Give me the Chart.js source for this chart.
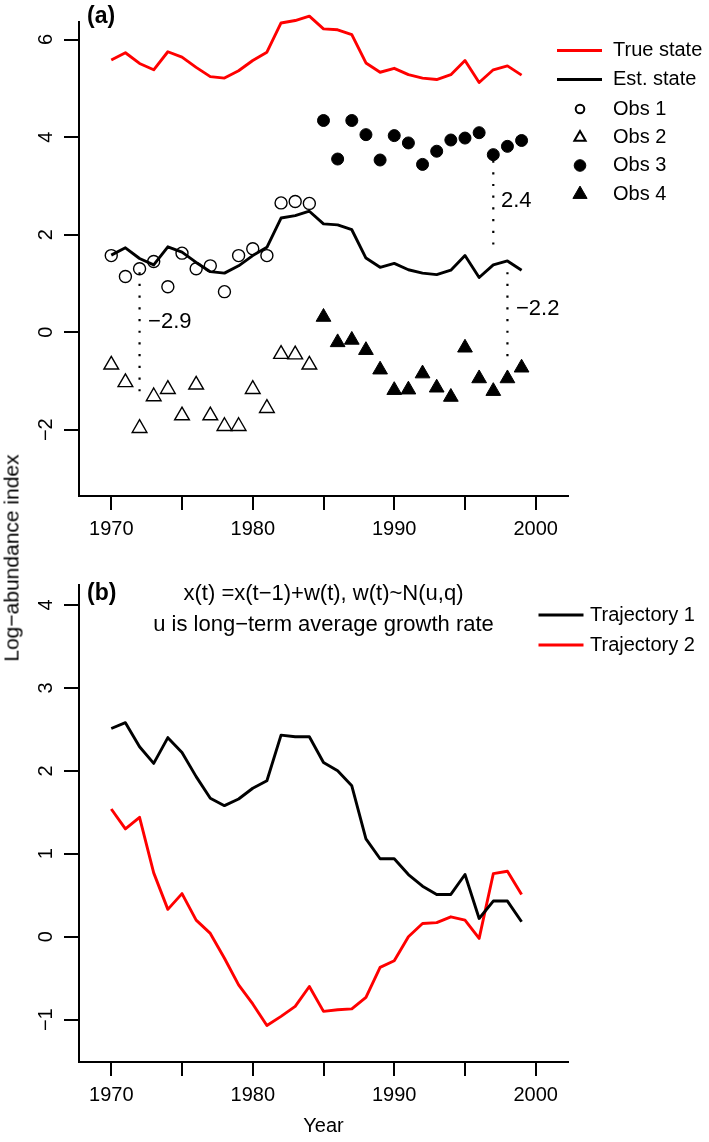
<!DOCTYPE html>
<html>
<head>
<meta charset="utf-8">
<title>Log-abundance index</title>
<script src="https://cdn.jsdelivr.net/npm/chart.js@4.4.1/dist/chart.umd.min.js"></script>
<style>
  html, body { margin:0; padding:0; background:#fff; }
  #page { position:relative; width:709px; height:1142px; overflow:hidden; background:#fff; }
  #boxA { position:absolute; left:0; top:0; width:709px; height:560px; }
  #boxB { position:absolute; left:0; top:560px; width:709px; height:582px; }
  #ytitle { position:absolute; left:11px; top:558px; transform: translate(-50%,-50%) rotate(-90deg);
            font: 21px 'Liberation Sans', Arial, Helvetica, sans-serif; line-height:1; white-space:nowrap; color:#000; }
</style>
</head>
<body>
<div id="page">
  <div id="boxA"><canvas id="chartA" width="709" height="560" style="width:709px;height:560px"></canvas></div>
  <div id="boxB"><canvas id="chartB" width="709" height="582" style="width:709px;height:582px"></canvas></div>
  <div id="ytitle">Log−abundance index</div>
</div>
<script>
// ---------------- data ----------------
const years = [1970,1971,1972,1973,1974,1975,1976,1977,1978,1979,1980,1981,1982,1983,1984,
               1985,1986,1987,1988,1989,1990,1991,1992,1993,1994,1995,1996,1997,1998,1999];
const earlyYears = [1970,1971,1972,1973,1974,1975,1976,1977,1978,1979,1980,1981,1982,1983,1984];
const lateYears  = [1985,1986,1987,1988,1989,1990,1991,1992,1993,1994,1995,1996,1997,1998,1999];

// panel (a)
const trueState = [5.58,5.73,5.51,5.38,5.75,5.64,5.43,5.24,5.21,5.36,5.57,5.74,6.34,6.39,6.48,
                   6.22,6.20,6.10,5.52,5.33,5.41,5.28,5.21,5.18,5.28,5.57,5.12,5.38,5.46,5.27];
const estState  = [1.58,1.73,1.51,1.38,1.75,1.64,1.43,1.24,1.21,1.36,1.57,1.74,2.34,2.39,2.48,
                   2.22,2.20,2.10,1.52,1.33,1.41,1.28,1.21,1.18,1.27,1.57,1.12,1.38,1.46,1.27];
const obs1 = [1.57,1.14,1.30,1.45,0.93,1.62,1.30,1.36,0.83,1.57,1.71,1.57,2.65,2.68,2.64];
const obs2 = [-0.67,-1.03,-1.97,-1.32,-1.17,-1.71,-1.08,-1.71,-1.93,-1.93,-1.17,-1.56,-0.45,-0.46,-0.67];
const obs3 = [4.34,3.55,4.34,4.05,3.53,4.03,3.88,3.44,3.71,3.94,3.98,4.09,3.64,3.81,3.93];
const obs4 = [0.31,-0.21,-0.16,-0.37,-0.77,-1.19,-1.18,-0.85,-1.14,-1.33,-0.32,-0.95,-1.21,-0.95,-0.73];

// dotted offset markers and their labels (panel a)
const gapYears  = [1972, 1997, 1998];
const gapFrom   = [1.23, 3.52, 1.23];
const gapTo     = [-1.21, 1.62, -0.53];
const gapLabels = ['\u22122.9', '2.4', '\u22122.2'];
const gapLabelX = [1972.6, 1997.54, 1998.6];
const gapLabelY = [0.20, 2.70, 0.48];

// panel (b)
const traj1 = [2.51,2.58,2.29,2.09,2.40,2.22,1.93,1.67,1.58,1.66,1.79,1.88,2.43,2.41,2.41,
               2.10,2.00,1.82,1.18,0.94,0.94,0.75,0.61,0.51,0.51,0.75,0.22,0.43,0.43,0.18];
const traj2 = [1.54,1.30,1.44,0.77,0.33,0.52,0.20,0.04,-0.26,-0.58,-0.81,-1.07,-0.96,-0.84,-0.60,
               -0.90,-0.88,-0.87,-0.73,-0.37,-0.29,0.00,0.16,0.17,0.24,0.20,-0.02,0.76,0.79,0.51];

// ticks and texts
const xTickValues = [1970,1975,1980,1985,1990,1995,2000];
const xTickLabels = ['1970','','1980','','1990','','2000'];
const yTicksA = [-2,0,2,4,6];
const yTickLabelsA = ['\u22122','0','2','4','6'];
const yTicksB = [-1,0,1,2,3,4];
const yTickLabelsB = ['\u22121','0','1','2','3','4'];
const legendA = ['True state','Est. state','Obs 1','Obs 2','Obs 3','Obs 4'];
const legendB = ['Trajectory 1','Trajectory 2'];
const noteB = ['x(t) =x(t\u22121)+w(t), w(t)~N(u,q)', 'u is long\u2212term average growth rate'];

// ---------------- styling ----------------
const FONT = "'Liberation Sans', Arial, Helvetica, sans-serif";
Chart.defaults.font.family = FONT;
Chart.defaults.font.size = 20;
Chart.defaults.color = '#000';
const RED = '#ff0000', BLACK = '#000000';
const LW = 2.9;

function pts(xs, ys) { return xs.map((x, i) => ({ x: x, y: ys[i] })); }

function xAxis(height, title) {
  return {
    type: 'linear', min: 1967.72, max: 2002.28,
    afterBuildTicks: s => { s.ticks = xTickValues.map(v => ({ value: v })); },
    afterFit: s => { s.height = height; },
    ticks: { autoSkip: false, maxRotation: 0, minRotation: 0, padding: 7, color: '#000',
             font: { size: 20 }, callback: (v, i) => xTickLabels[i] },
    grid: { display: true, drawOnChartArea: false, drawTicks: true, tickLength: 14, color: '#000', lineWidth: 2 },
    border: { display: true, color: '#000', width: 2 },
    title: title ? { display: true, text: title, color: '#000', font: { size: 20 }, padding: { top: 0, bottom: 4 } } : { display: false }
  };
}
function yAxis(min, max, ticks, labels) {
  return {
    type: 'linear', min: min, max: max,
    afterBuildTicks: s => { s.ticks = ticks.map(v => ({ value: v })); },
    afterFit: s => { s.width = 79; },
    ticks: { autoSkip: false, minRotation: 90, maxRotation: 90, crossAlign: 'center', padding: 6,
             color: '#000', font: { size: 20 }, callback: (v, i) => labels[i] },
    grid: { display: true, drawOnChartArea: false, drawTicks: true, tickLength: 15, color: '#000', lineWidth: 2 },
    border: { display: true, color: '#000', width: 2 }
  };
}
function lineDs(label, data, color) {
  return { label, data, showLine: true, borderColor: color, backgroundColor: color, borderWidth: LW,
           pointRadius: 0, borderJoinStyle: 'round', borderCapStyle: 'butt', clip: false, tension: 0 };
}
function pointDs(label, data, style, radius, filled) {
  return { label, data, showLine: false, pointStyle: style, pointRadius: radius,
           pointBorderColor: BLACK, pointBackgroundColor: filled ? BLACK : 'rgba(0,0,0,0)',
           pointBorderWidth: filled ? 1 : 1.4, borderColor: BLACK, backgroundColor: filled ? BLACK : 'rgba(0,0,0,0)', clip: false };
}

function drawMarker(ctx, style, x, y, r, filled, lw) {
  ctx.beginPath();
  if (style === 'circle') {
    ctx.arc(x, y, r, 0, Math.PI * 2);
  } else {
    for (let k = 0; k < 3; k++) {
      const a = k * 2 * Math.PI / 3;
      const px = x + Math.sin(a) * r, py = y - Math.cos(a) * r;
      if (k === 0) ctx.moveTo(px, py); else ctx.lineTo(px, py);
    }
    ctx.closePath();
  }
  if (filled) { ctx.fillStyle = BLACK; ctx.fill(); }
  ctx.lineWidth = lw; ctx.strokeStyle = BLACK; ctx.stroke();
}

const extrasA = {
  id: 'extrasA',
  afterDatasetsDraw(chart) {
    const ctx = chart.ctx, xs = chart.scales.x, ys = chart.scales.y;
    ctx.save();
    ctx.fillStyle = '#000';
    ctx.textAlign = 'left';
    ctx.textBaseline = 'middle';
    ctx.font = 'bold 23px ' + FONT;
    ctx.fillText('(a)', 87, 17);
    ctx.font = '22px ' + FONT;
    gapLabels.forEach((t, i) => ctx.fillText(t, xs.getPixelForValue(gapLabelX[i]), ys.getPixelForValue(gapLabelY[i])));
    // legend
    const ly = [50.5, 79.5, 109, 137.5, 165.5, 194.3];
    ctx.lineCap = 'butt';
    [[RED, 0], [BLACK, 1]].forEach(([c, i]) => {
      ctx.beginPath(); ctx.moveTo(557, ly[i]); ctx.lineTo(602, ly[i]);
      ctx.strokeStyle = c; ctx.lineWidth = LW; ctx.stroke();
    });
    drawMarker(ctx, 'circle', 580, ly[2], 4.3, false, 2);
    drawMarker(ctx, 'triangle', 580, ly[3], 6.5, false, 2);
    drawMarker(ctx, 'circle', 580, ly[4], 5.8, true, 1);
    drawMarker(ctx, 'triangle', 580, ly[5], 8.2, true, 1);
    ctx.fillStyle = '#000';
    ctx.font = '20px ' + FONT;
    legendA.forEach((t, i) => ctx.fillText(t, 613, ly[i]));
    ctx.restore();
  }
};

const extrasB = {
  id: 'extrasB',
  afterDatasetsDraw(chart) {
    const ctx = chart.ctx, area = chart.chartArea;
    ctx.save();
    ctx.fillStyle = '#000';
    ctx.textBaseline = 'middle';
    ctx.textAlign = 'left';
    ctx.font = 'bold 23px ' + FONT;
    ctx.fillText('(b)', 87, 33.5);
    ctx.textAlign = 'center';
    ctx.font = '22px ' + FONT;
    const cx = (area.left + area.right) / 2;
    ctx.fillText(noteB[0], cx, 33.5);
    ctx.fillText(noteB[1], cx, 65);
    // legend
    const ly = [55, 85];
    [[BLACK, 0], [RED, 1]].forEach(([c, i]) => {
      ctx.beginPath(); ctx.moveTo(538.5, ly[i]); ctx.lineTo(583.5, ly[i]);
      ctx.strokeStyle = c; ctx.lineWidth = LW; ctx.stroke();
    });
    ctx.textAlign = 'left';
    ctx.font = '20px ' + FONT;
    legendB.forEach((t, i) => ctx.fillText(t, 590, ly[i]));
    ctx.restore();
  }
};

const common = { responsive: false, animation: false, events: [], devicePixelRatio: 1,
                 plugins: { legend: { display: false }, tooltip: { enabled: false }, title: { display: false } } };

const dotDatasets = gapYears.map((yr, i) => ({
  label: 'gap' + i,
  data: [{ x: yr, y: gapFrom[i] }, { x: yr, y: gapTo[i] }],
  showLine: true, borderColor: BLACK, borderWidth: 2.2, borderDash: [2.2, 9.5], borderCapStyle: 'butt',
  pointRadius: 0, clip: false
}));

new Chart(document.getElementById('chartA'), {
  type: 'scatter',
  data: { datasets: [
    lineDs('True state', pts(years, trueState), RED),
    lineDs('Est. state', pts(years, estState), BLACK),
    ...dotDatasets,
    pointDs('Obs 1', pts(earlyYears, obs1), 'circle', 6, false),
    pointDs('Obs 2', pts(earlyYears, obs2), 'triangle', 8.5, false),
    pointDs('Obs 3', pts(lateYears, obs3), 'circle', 6, true),
    pointDs('Obs 4', pts(lateYears, obs4), 'triangle', 8.5, true)
  ] },
  options: Object.assign({}, common, {
    layout: { padding: { top: 22, left: 0, right: 141, bottom: 0 } },
    scales: { x: xAxis(64, null), y: yAxis(-3.36, 6.36, yTicksA, yTickLabelsA) }
  }),
  plugins: [extrasA]
});

new Chart(document.getElementById('chartB'), {
  type: 'scatter',
  data: { datasets: [
    lineDs('Trajectory 1', pts(years, traj1), BLACK),
    lineDs('Trajectory 2', pts(years, traj2), RED)
  ] },
  options: Object.assign({}, common, {
    layout: { padding: { top: 25, left: 0, right: 141, bottom: 0 } },
    scales: { x: xAxis(80, 'Year'), y: yAxis(-1.51, 4.24, yTicksB, yTickLabelsB) }
  }),
  plugins: [extrasB]
});
</script>
</body>
</html>
